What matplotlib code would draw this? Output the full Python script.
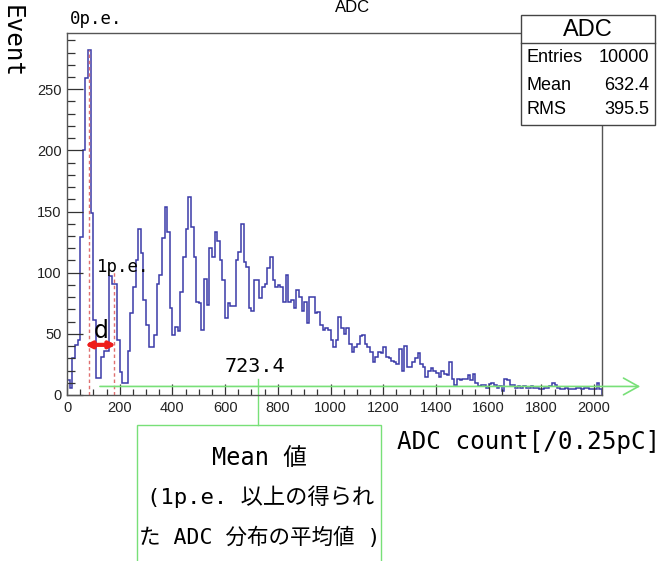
import numpy as np
import matplotlib
matplotlib.use('Agg')
import matplotlib.pyplot as plt
from matplotlib.patches import Rectangle
from matplotlib.ticker import MultipleLocator

# ---------------- data ----------------
bin_width = 10
counts = [
    12, 6, 30, 41, 45, 129, 200, 259, 282, 149,          # 0-90
    61, 14, 14, 31, 36, 36, 97, 91, 91, 45,              # 100-190
    19, 10, 10, 36, 67, 88, 110, 136, 116, 78,           # 200-290
    57, 39, 39, 49, 91, 98, 128, 154, 133, 71,           # 300-390
    49, 56, 52, 84, 113, 136, 162, 137, 113, 76,         # 400-490
    75, 53, 95, 74, 120, 113, 133, 126, 110, 94,         # 500-590
    63, 75, 73, 73, 110, 117, 140, 109, 105, 71,         # 600-690
    69, 94, 94, 79, 88, 91, 104, 113, 94, 88,            # 700-790
    90, 88, 76, 98, 76, 78, 71, 86, 80, 69,              # 800-890
    76, 59, 80, 80, 67, 68, 57, 53, 55, 53,              # 900-990
    45, 39, 45, 64, 55, 50, 55, 42, 35, 39,              # 1000-1090
    42, 48, 49, 42, 39, 35, 27, 31, 35, 34,              # 1100-1190
    39, 31, 30, 28, 27, 25, 38, 20, 40, 23,              # 1200-1290
    23, 27, 30, 34, 25, 23, 15, 20, 22, 20,              # 1300-1390
    18, 15, 20, 17, 16, 27, 13, 8, 13, 12,               # 1400-1490
    13, 13, 16, 12, 17, 10, 7, 8, 8, 6,                  # 1500-1590
    9, 10, 8, 6, 7, 3, 13, 12, 8, 8,                     # 1600-1690
    6, 7, 6, 7, 6, 6, 7, 6, 6, 5,                        # 1700-1790
    5, 6, 6, 7, 10, 8, 6, 5, 5, 6,                       # 1800-1890
    5, 5, 5, 6, 6, 5, 6, 6, 5, 5,                        # 1900-1990
    5, 10, 5,                                            # 2000-2020
]
edges = np.arange(len(counts) + 1) * bin_width

stat_labels = ["Entries", "Mean", "RMS"]
stat_values = ["10000", "632.4", "395.5"]
hist_name = "ADC"

pe0_pos, pe0_top = 82, 282
pe1_pos, pe1_top = 180, 102
mean_val = 723.4

x_ticks = list(range(0, 2001, 200))
y_ticks = list(range(0, 251, 50))

# ---------------- figure ----------------
W, H = 665, 561
fig = plt.figure(figsize=(W / 100, H / 100), dpi=100)
fig.patch.set_facecolor('white')

def fx(px):
    return px / W

def fy(py):
    return 1 - py / H

ax = fig.add_axes([fx(67), fy(395), (602 - 67) / W, (395 - 33) / H])
ax.stairs(counts, edges, color='#3a3aa8', lw=1.1)
ax.set_xlim(0, 2030)
ax.set_ylim(0, 296)

for s in ax.spines.values():
    s.set_color('#555555')
    s.set_linewidth(1.0)

ax.set_xticks(x_ticks)
ax.set_yticks(y_ticks)
ax.xaxis.set_minor_locator(MultipleLocator(50))
ax.yaxis.set_minor_locator(MultipleLocator(10))
ax.tick_params(axis='y', which='major', direction='in', length=11.5, width=0.9,
               color='#333333', pad=4, labelsize=10.5)
ax.tick_params(axis='y', which='minor', direction='in', length=5.8, width=0.9,
               color='#333333')
ax.tick_params(axis='x', which='major', direction='in', length=7.9, width=0.9,
               color='#333333', pad=4, labelsize=10.5)
ax.tick_params(axis='x', which='minor', direction='in', length=4.0, width=0.9,
               color='#333333')
for lab in ax.get_xticklabels() + ax.get_yticklabels():
    lab.set_fontfamily('Liberation Sans')
    lab.set_color('#222222')

# red dashed lines at p.e. peaks
red_dash = '#e07070'
ax.plot([pe0_pos, pe0_pos], [0, pe0_top], ls=(0, (2.5, 2)), color=red_dash, lw=1.0)
ax.plot([pe1_pos, pe1_pos], [0, pe1_top], ls=(0, (2.5, 2)), color=red_dash, lw=1.0)

# d arrow
ax.annotate('', xy=(68, 41), xytext=(186, 41),
            arrowprops=dict(arrowstyle='<|-|>', color='#ee1c1c', lw=3,
                            mutation_scale=9, shrinkA=0, shrinkB=0))
ax.text(fx(101), fy(331), 'd', transform=fig.transFigure, ha='center', va='center',
        fontsize=17, family='DejaVu Sans', color='black')

# green arrow
green = '#78e078'
ax.annotate('', xy=(2175, 7), xytext=(125, 7), annotation_clip=False,
            arrowprops=dict(arrowstyle='->,head_length=0.9,head_width=0.5', color=green,
                            lw=1.2, mutation_scale=12, shrinkA=0, shrinkB=0))
ax.plot([mean_val, mean_val], [13, -24.5], color=green, lw=1.0, clip_on=False)

# green box
fig.patches.append(Rectangle((fx(137), fy(570)), (381 - 137) / W, (570 - 425) / H,
                             transform=fig.transFigure, fill=False, edgecolor=green,
                             lw=1.0))

mono = ['DejaVu Sans Mono', 'Noto Sans CJK JP']
fig.text(fx(259), fy(458), 'Mean 値', ha='center', va='center', fontsize=17,
         family=mono)
fig.text(fx(261), fy(497), '(1p.e. 以上の得られ', ha='center', va='center',
         fontsize=16, family=mono)
fig.text(fx(260), fy(537), 'た ADC 分布の平均値 )', ha='center', va='center',
         fontsize=15.5, family=mono)

# labels
fig.text(fx(397), fy(442), 'ADC count[/0.25pC]', ha='left', va='center',
         fontsize=17.5, family='DejaVu Sans Mono')
fig.text(fx(12), fy(42), 'Event', ha='center', va='center', rotation=270,
         fontsize=17.5, family='DejaVu Sans Mono')
fig.text(fx(70), fy(19), '0p.e.', ha='left', va='center', fontsize=12.5,
         family='DejaVu Sans Mono')
fig.text(fx(97), fy(267), '1p.e.', ha='left', va='center', fontsize=12.5,
         family='DejaVu Sans Mono')
fig.text(fx(225), fy(367), f'{mean_val}', ha='left', va='center', fontsize=14.5,
         family='DejaVu Sans Mono')

# title (at the very top)
fig.text(fx(353), fy(0.5), hist_name, ha='center', va='top', fontsize=12,
         family='Liberation Sans')

# stats box
bx0, bx1, by0, by1, bdiv = 521, 655, 15, 125, 43
fig.patches.append(Rectangle((fx(bx0), fy(by1)), (bx1 - bx0) / W, (by1 - by0) / H,
                             transform=fig.transFigure, facecolor='white',
                             edgecolor='#444444', lw=1.0, zorder=5))
fig.lines.append(plt.Line2D([fx(bx0), fx(bx1)], [fy(bdiv), fy(bdiv)],
                            transform=fig.transFigure, color='#444444', lw=1.0,
                            zorder=6))
fig.text(fx((bx0 + bx1) / 2), fy(30), hist_name, ha='center', va='center',
         fontsize=17, family='Liberation Sans', zorder=7)
row_y = [58, 85, 110]
for lab, val, ry in zip(stat_labels, stat_values, row_y):
    fig.text(fx(526), fy(ry), lab, ha='left', va='center', fontsize=13,
             family='Liberation Sans', zorder=7)
    fig.text(fx(649), fy(ry), val, ha='right', va='center', fontsize=13,
             family='Liberation Sans', zorder=7)

fig.savefig('out.png', dpi=100)
